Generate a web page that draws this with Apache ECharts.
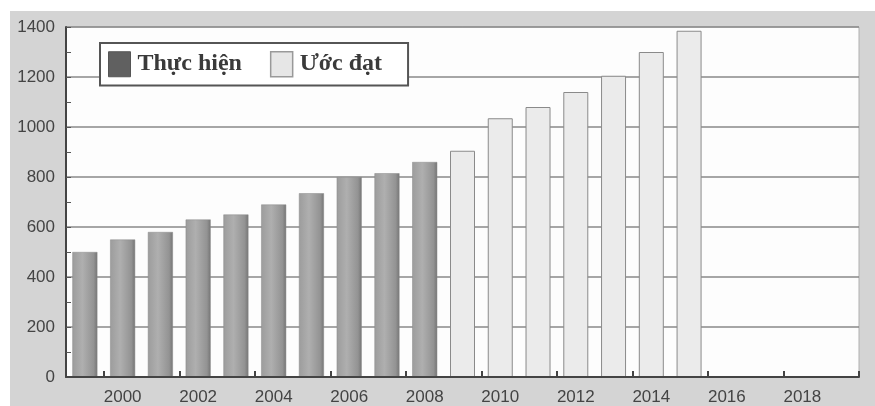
<!DOCTYPE html>
<html>
<head>
<meta charset="utf-8">
<script src="https://cdn.jsdelivr.net/npm/echarts@6/dist/echarts.min.js"></script>
<style>
  html, body { margin: 0; padding: 0; background: #fff; }
  #main { width: 875px; height: 406px; }
</style>
</head>
<body>
<div id="main"></div>
<script>
var years = ['1999', '2000', '2001', '2002', '2003', '2004', '2005', '2006', '2007', '2008',
  '2009', '2010', '2011', '2012', '2013', '2014', '2015', '2016', '2017', '2018', '2019'];
// Thực hiện: 1999 - 2008
var actualValues = [500, 550, 580, 630, 650, 690, 735, 800, 815, 860];
// Ước đạt: 2009 - 2015
var estimateValues = [905, 1035, 1080, 1140, 1205, 1300, 1385];
var yTicks = [0, 200, 400, 600, 800, 1000, 1200, 1400];

var chart = echarts.init(document.getElementById('main'), null, { renderer: 'canvas' });

var actualData = years.map(function (y, i) {
  return i < actualValues.length ? actualValues[i] : '-';
});
var estimateData = years.map(function (y, i) {
  var k = i - actualValues.length;
  return k >= 0 && k < estimateValues.length ? estimateValues[k] : '-';
});

// labels on even years, ticks on the left edge of those years
var evenYear = function (index, value) { return parseInt(value, 10) % 2 === 0; };
var evenYearTick = function (index) { return index % 2 === 1; };

var option = {
  backgroundColor: '#fff',
  animation: false,
  graphic: [{
    type: 'rect',
    z: -10,
    shape: { x: 10, y: 11, width: 865, height: 395 },
    style: { fill: '#d4d4d4' }
  }],
  grid: {
    left: 66, right: 16, top: 27, bottom: 28,
    show: true,
    backgroundColor: '#fdfdfd',
    borderColor: '#b0b0b0',
    borderWidth: 1
  },
  legend: {
    left: 100,
    top: 43,
    backgroundColor: '#fff',
    borderColor: '#555',
    borderWidth: 2,
    padding: [8, 26, 8, 8],
    itemGap: 28,
    itemWidth: 22,
    itemHeight: 25,
    icon: 'rect',
    textStyle: {
      fontFamily: 'Liberation Serif',
      fontWeight: 'bold',
      fontSize: 24,
      color: '#3a3a3a',
      padding: [0, 0, 0, 2]
    },
    data: [
      { name: 'Thực hiện', itemStyle: { color: '#606060', borderColor: '#555', borderWidth: 1 } },
      { name: 'Ước đạt', itemStyle: { color: '#e6e6e6', borderColor: '#999', borderWidth: 1.5 } }
    ]
  },
  xAxis: {
    type: 'category',
    data: years,
    boundaryGap: true,
    z: 10,
    axisLine: { lineStyle: { color: '#444', width: 2 } },
    axisTick: {
      show: true,
      inside: true,
      length: 6,
      interval: evenYearTick,
      lineStyle: { color: '#444', width: 2 }
    },
    axisLabel: {
      interval: evenYear,
      fontFamily: 'Liberation Sans',
      fontSize: 17,
      color: '#444',
      margin: 12
    }
  },
  yAxis: {
    type: 'value',
    min: yTicks[0],
    max: yTicks[yTicks.length - 1],
    interval: 200,
    axisLine: { show: true, lineStyle: { color: '#444', width: 2 } },
    axisTick: { show: true, inside: true, length: 5, lineStyle: { color: '#555' } },
    minorTick: { show: true, splitNumber: 2, length: 5, lineStyle: { color: '#555' } },
    splitLine: { lineStyle: { color: '#888', width: 1.5 } },
    axisLabel: {
      formatter: function (v) { return String(v); },
      fontFamily: 'Liberation Sans',
      fontSize: 17,
      color: '#444',
      margin: 11
    }
  },
  series: [{
    name: 'Thực hiện',
    type: 'bar',
    data: actualData,
    barWidth: 25,
    barGap: '-100%',
    itemStyle: {
      color: {
        type: 'linear', x: 0, y: 0, x2: 1, y2: 0,
        colorStops: [
          { offset: 0, color: '#9c9c9c' },
          { offset: 0.4, color: '#afafaf' },
          { offset: 0.85, color: '#939393' },
          { offset: 1, color: '#747474' }
        ]
      },
      borderColor: '#888',
      borderWidth: 0.5
    }
  }, {
    name: 'Ước đạt',
    type: 'bar',
    data: estimateData,
    barWidth: 25,
    itemStyle: {
      color: '#ebebeb',
      borderColor: '#8a8a8a',
      borderWidth: 1
    }
  }]
};

chart.setOption(option);
</script>
</body>
</html>
